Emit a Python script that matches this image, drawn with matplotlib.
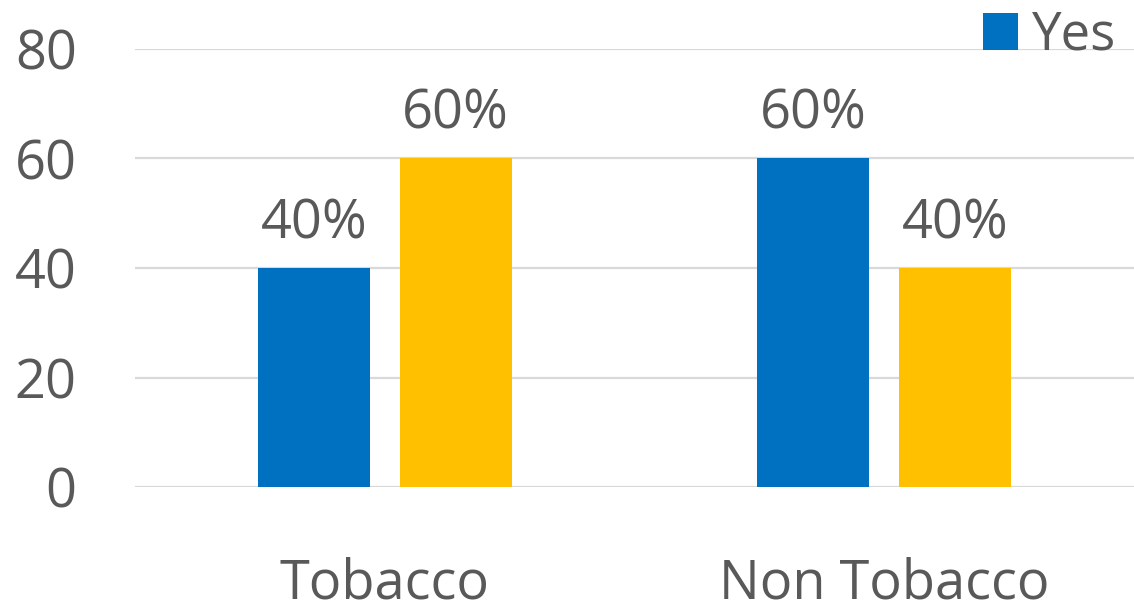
import matplotlib.pyplot as plt
import numpy as np

categories = ["Tobacco", "Non Tobacco"]
yes_vals = [40, 60]
no_vals = [60, 40]
yes_labels = ["40%", "60%"]
no_labels = ["60%", "40%"]
yticks = [0, 20, 40, 60, 80]

plt.rcParams['font.family'] = ['Open Sans', 'DejaVu Sans']
txt = "#595959"

fig = plt.figure(figsize=(11.34, 6.12), dpi=100)
ax = fig.add_axes([135/1134, 1-487/612, 999/1134, (487-49)/612])

x = np.arange(len(categories))
w = 0.224
off = 0.142
b1 = ax.bar(x - off, yes_vals, w, color="#0070C0", label="Yes", zorder=3)
b2 = ax.bar(x + off, no_vals, w, color="#FFC000", label="No", zorder=3)

for bars, labs in [(b1, yes_labels), (b2, no_labels)]:
    for b, l in zip(bars, labs):
        ax.annotate(l, (b.get_x() + b.get_width()/2, b.get_height()),
                    xytext=(0, 12), textcoords="offset points",
                    ha="center", va="bottom", fontsize=39, color=txt)

ax.set_xlim(-0.5, 1.5)
ax.set_ylim(0, 80)
ax.set_yticks(yticks)
ax.set_xticks(x)
ax.set_xticklabels(categories)
ax.tick_params(axis="y", length=0, pad=42, labelsize=39, labelcolor=txt)
ax.tick_params(axis="x", length=0, pad=50, labelsize=39, labelcolor=txt)
ax.grid(axis="y", color="#D9D9D9", lw=1.6, zorder=0)
for s in ax.spines.values():
    s.set_visible(False)

leg = fig.legend(handles=[b1], labels=["Yes"], loc="upper left",
                 bbox_to_anchor=(935/1134, 1 + 38/612), frameon=False,
                 fontsize=38, handlelength=0.68, handleheight=0.68,
                 handletextpad=0.25, labelcolor=txt)

fig.savefig("out.png", dpi=100)
